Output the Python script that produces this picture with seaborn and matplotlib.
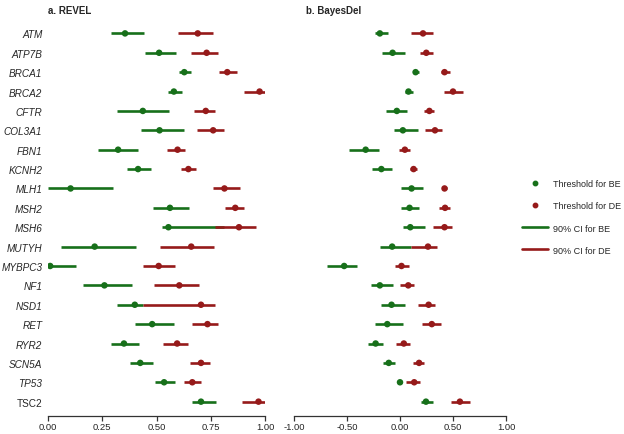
import matplotlib
matplotlib.use("Agg")

import matplotlib.pyplot as plt
from matplotlib.lines import Line2D
import numpy as np
import pandas as pd
import seaborn as sns

genes = ["ATM", "ATP7B", "BRCA1", "BRCA2", "CFTR", "COL3A1", "FBN1", "KCNH2", "MLH1",
         "MSH2", "MSH6", "MUTYH", "MYBPC3", "NF1", "NSD1", "RET", "RYR2", "SCN5A", "TP53", "TSC2"]

# REVEL thresholds and 90% CI
revel_be = [0.355, 0.512, 0.628, 0.580, 0.437, 0.514, 0.323, 0.415, 0.104,
            0.562, 0.555, 0.215, 0.010, 0.260, 0.400, 0.480, 0.350, 0.425, 0.535, 0.705]
revel_be_lo = [0.290, 0.446, 0.604, 0.553, 0.318, 0.430, 0.230, 0.364, 0.000,
               0.486, 0.525, 0.060, 0.000, 0.160, 0.320, 0.400, 0.290, 0.380, 0.495, 0.665]
revel_be_hi = [0.443, 0.590, 0.659, 0.617, 0.556, 0.628, 0.414, 0.474, 0.300,
               0.648, 0.810, 0.405, 0.130, 0.385, 0.440, 0.580, 0.420, 0.485, 0.585, 0.775]
revel_de = [0.690, 0.731, 0.826, 0.975, 0.727, 0.761, 0.597, 0.647, 0.813,
            0.863, 0.880, 0.660, 0.510, 0.605, 0.705, 0.735, 0.595, 0.705, 0.665, 0.970]
revel_de_lo = [0.600, 0.660, 0.786, 0.903, 0.673, 0.685, 0.550, 0.611, 0.759,
               0.816, 0.770, 0.515, 0.440, 0.490, 0.440, 0.665, 0.530, 0.655, 0.625, 0.895]
revel_de_hi = [0.760, 0.784, 0.870, 1.000, 0.770, 0.812, 0.630, 0.684, 0.883,
               0.904, 0.960, 0.765, 0.585, 0.695, 0.770, 0.785, 0.645, 0.745, 0.705, 1.000]

# BayesDel thresholds and 90% CI
bd_be = [-0.190, -0.070, 0.147, 0.080, -0.030, 0.027, -0.324, -0.176, 0.109,
         0.090, 0.097, -0.074, -0.527, -0.190, -0.080, -0.120, -0.230, -0.106, 0.000, 0.245]
bd_be_lo = [-0.236, -0.166, 0.120, 0.050, -0.128, -0.058, -0.480, -0.260, 0.014,
            0.008, 0.027, -0.190, -0.685, -0.277, -0.180, -0.240, -0.300, -0.160, -0.017, 0.195]
bd_be_hi = [-0.110, 0.046, 0.180, 0.120, 0.068, 0.172, -0.195, -0.080, 0.214,
            0.180, 0.236, 0.100, -0.406, -0.070, 0.050, 0.024, -0.160, -0.043, 0.020, 0.310]
bd_de = [0.217, 0.248, 0.420, 0.500, 0.277, 0.330, 0.046, 0.128, 0.420,
         0.425, 0.420, 0.264, 0.014, 0.078, 0.270, 0.300, 0.036, 0.180, 0.134, 0.565]
bd_de_lo = [0.100, 0.190, 0.385, 0.416, 0.226, 0.236, -0.005, 0.090, 0.400,
            0.370, 0.315, 0.100, -0.050, 0.000, 0.166, 0.207, -0.040, 0.125, 0.060, 0.480]
bd_de_hi = [0.315, 0.310, 0.473, 0.590, 0.324, 0.397, 0.097, 0.163, 0.445,
            0.476, 0.490, 0.353, 0.084, 0.134, 0.328, 0.388, 0.097, 0.230, 0.185, 0.657]

green = "#17701a"
red = "#961a1a"

sns.set_style("white")
plt.rcParams["font.family"] = ["Liberation Sans", "DejaVu Sans"]

fig = plt.figure(figsize=(6.24, 4.35), dpi=100)
ax1 = fig.add_axes([48 / 624, 18 / 435, 217 / 624, 395 / 435])
ax2 = fig.add_axes([294 / 624, 18 / 435, 212 / 624, 395 / 435])

pos = np.arange(len(genes))


def draw_panel(ax, be, be_lo, be_hi, de, de_lo, de_hi):
	df = pd.DataFrame({"pos": pos, "be": be, "be_lo": be_lo, "be_hi": be_hi,
	                   "de": de, "de_lo": de_lo, "de_hi": de_hi})
	ax.hlines(df["pos"], df["be_lo"], df["be_hi"], color=green, lw=1.9)
	ax.hlines(df["pos"], df["de_lo"], df["de_hi"], color=red, lw=1.9)
	sns.scatterplot(data=df, x="be", y="pos", color=green, s=22, edgecolor="none", ax=ax, zorder=3)
	sns.scatterplot(data=df, x="de", y="pos", color=red, s=22, edgecolor="none", ax=ax, zorder=3)
	ax.set_ylim(len(genes) - 1 + 0.74, -0.64)
	ax.set_xlabel("")
	ax.set_ylabel("")
	for s in ["top", "right", "left"]:
		ax.spines[s].set_visible(False)
	ax.spines["bottom"].set_color("#333333")
	ax.spines["bottom"].set_linewidth(0.9)
	ax.tick_params(axis="x", bottom=True, length=3.5, width=0.9, color="#333333",
	               labelsize=6.8, pad=1)
	ax.tick_params(axis="y", left=False, length=0)


draw_panel(ax1, revel_be, revel_be_lo, revel_be_hi, revel_de, revel_de_lo, revel_de_hi)
draw_panel(ax2, bd_be, bd_be_lo, bd_be_hi, bd_de, bd_de_lo, bd_de_hi)

ax1.set_xlim(0, 1)
ax1.set_xticks([0, 0.25, 0.5, 0.75, 1.0])
ax1.set_xticklabels(["0.00", "0.25", "0.50", "0.75", "1.00"])
ax1.set_yticks(pos)
ax1.set_yticklabels(genes, fontsize=7.2)
ax1.tick_params(axis="y", pad=4)
for lab in ax1.get_yticklabels():
	if lab.get_text() != "TSC2":
		lab.set_style("italic")

ax2.set_xlim(-1, 1)
ax2.set_xticks([-1, -0.5, 0, 0.5, 1.0])
ax2.set_xticklabels(["-1.00", "-0.50", "0.00", "0.50", "1.00"])
ax2.set_yticks([])

fig.text(48 / 624, 1 - 11 / 435, "a. REVEL", fontsize=7, fontweight="bold", va="center")
fig.text(306 / 624, 1 - 11 / 435, "b. BayesDel", fontsize=7, fontweight="bold", va="center")

handles = [
	Line2D([], [], marker="o", color=green, ls="none", markersize=3.2),
	Line2D([], [], marker="o", color=red, ls="none", markersize=3.2),
	Line2D([], [], color=green, lw=1.9),
	Line2D([], [], color=red, lw=1.9),
]
labels = ["Threshold for BE", "Threshold for DE", "90% CI for BE", "90% CI for DE"]
fig.legend(handles, labels, loc="center left", bbox_to_anchor=(514 / 624, 1 - 218 / 435),
           frameon=False, fontsize=6.5, handlelength=2.9, labelspacing=1.45, handletextpad=0.5)

fig.savefig("out.png", dpi=100)
